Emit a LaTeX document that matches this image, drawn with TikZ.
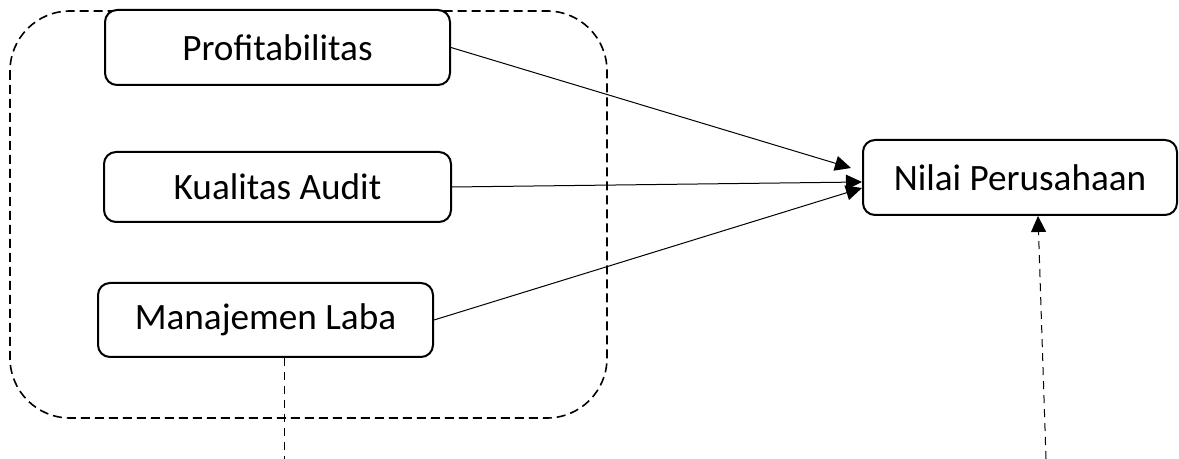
\documentclass[tikz,border=0pt]{standalone}
\usepackage{fontspec}
\setmainfont{Carlito}
\usetikzlibrary{positioning,arrows.meta,calc}

\begin{document}
\begin{tikzpicture}[x=0.5pt, y=-0.5pt,
    every node/.style={font=\fontsize{18.6}{22}\selectfont},
    varbox/.style={draw, line width=1pt, rounded corners=6pt, fill=white, minimum height=37.5pt},
    link/.style={line width=0.5pt, -{Triangle[length=8pt,width=7.5pt]}},
    dashlink/.style={line width=0.5pt, dash pattern=on 4pt off 3pt}]
  \useasboundingbox (0,0) rectangle (1179,459);
  % kelompok variabel independen
  \draw[line width=0.8pt, dash pattern=on 4.5pt off 2.5pt, rounded corners=30pt] (10,11) rectangle (607,418);
  \node[varbox, minimum width=172.5pt] (profit) at (277.5,47.5) {Profitabilitas};
  \node[varbox, minimum width=173.5pt, minimum height=35pt] (audit) at (277.5,187) {Kualitas Audit};
  \node[varbox, minimum width=167.5pt, minimum height=37pt] (laba) at (265.5,320) {Manajemen Laba};
  \node[varbox, minimum width=157pt] (nilai) at (1020,177.5) {Nilai Perusahaan};
  % panah ke variabel dependen
  \draw[link] (profit.east) -- ($(nilai.west)+(-11,-9.5)$);
  \draw[link] (audit.east) -- ($(nilai.west)+(0,4.5)$);
  \draw[link] (laba.east) -- ($(nilai.west)+(0,10.5)$);
  % garis putus-putus ke bawah
  \coordinate (labaout) at (284,459);
  \coordinate (nilaiin) at (1046,459);
  \draw[dashlink] (laba.south -| labaout) -- (labaout);
  \draw[dashlink, -{Triangle[length=8pt,width=7.5pt]}] (nilaiin) -- ($(nilai.south)+(18,0)$);
\end{tikzpicture}
\end{document}
